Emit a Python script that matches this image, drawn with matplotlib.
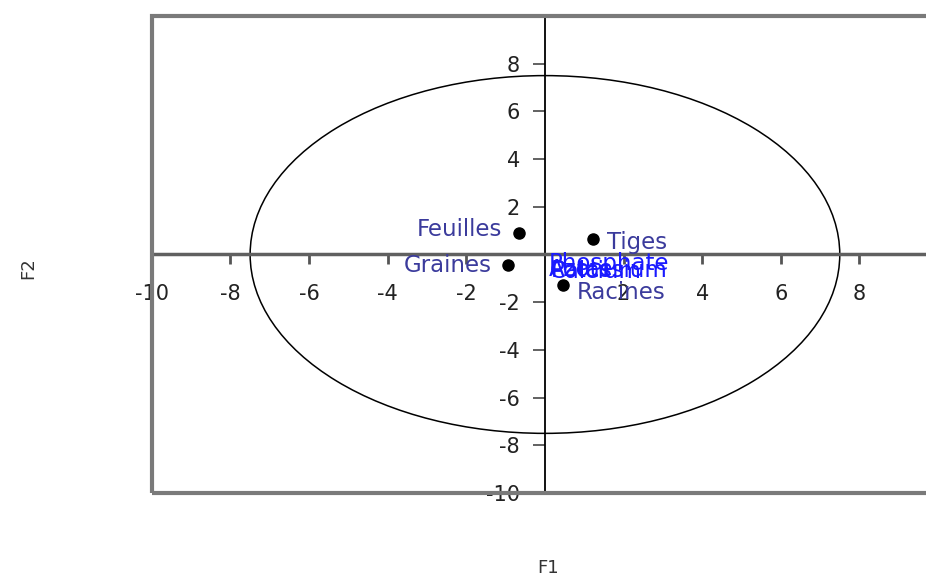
import matplotlib.pyplot as plt
from matplotlib.patches import Ellipse, Rectangle

# individuals (black dots)
obs_names = ["Feuilles", "Graines", "Tiges", "Racines"]
obs_f1 = [-0.66, -0.94, 1.22, 0.46]
obs_f2 = [0.92, -0.42, 0.63, -1.26]

# variables (blue labels, no marker)
var_names = ["Phosphate", "Azote", "Calcium", "Potassium"]
var_f1 = [0.1, 0.1, 0.12, 0.15]
var_f2 = [-0.38, -0.62, -0.7, -0.66]

circle_radius = 7.5
ticks = [-10, -8, -6, -4, -2, 2, 4, 6, 8]

fig = plt.figure(figsize=(9.26, 5.77), dpi=100)
ax = fig.add_axes([0.164, 0.1456, 0.849, 0.8267])
ax.set_xlim(-10, 10)
ax.set_ylim(-10, 10)

ax.spines['top'].set_visible(False)
ax.spines['right'].set_visible(False)
ax.spines['left'].set_position('zero')
ax.spines['bottom'].set_position('zero')
ax.spines['left'].set_color('black')
ax.spines['left'].set_linewidth(1.3)
ax.spines['bottom'].set_color('#606060')
ax.spines['bottom'].set_linewidth(2.5)

# outer frame
ax.add_patch(Rectangle((0, 0), 1, 1, transform=ax.transAxes, fill=False,
                       ec='#7a7a7a', lw=3, clip_on=False, zorder=5))

ax.set_xticks(ticks)
ax.set_yticks(ticks)
ax.tick_params(axis='x', direction='out', length=7, width=2, color='#555555',
               pad=14, labelsize=15, labelcolor='#222222')
ax.tick_params(axis='y', direction='out', length=9, width=1.3, color='#555555',
               pad=9, labelsize=15, labelcolor='#222222')
ax.set_xticklabels([str(t) for t in ticks])
ax.set_yticklabels([str(t) for t in ticks])

ax.add_patch(Ellipse((0, 0), 2 * circle_radius, 2 * circle_radius,
                     fill=False, ec='black', lw=1.1))

ax.plot(obs_f1, obs_f2, 'o', color='black', ms=8, zorder=6)

offsets = {"Feuilles": (-12, 2, 'right'), "Graines": (-12, -1, 'right'),
           "Tiges": (10, -2, 'left'), "Racines": (10, -6, 'left')}
for name, x, y in zip(obs_names, obs_f1, obs_f2):
    dx, dy, ha = offsets[name]
    ax.annotate(name, (x, y), xytext=(dx, dy), textcoords='offset points',
                ha=ha, va='center', fontsize=16.5, color='#3b3b9c')

for name, x, y in zip(var_names, var_f1, var_f2):
    ax.text(x, y, name, ha='left', va='center', fontsize=16.5, color='#1a1aff')

fig.text(0.592, 0.0, "F1", ha='center', va='bottom', fontsize=13, color='#333333')
fig.text(0.03, 0.535, "F2", ha='center', va='center', rotation=90,
         fontsize=13, color='#333333')

fig.savefig("out.png", dpi=100)
